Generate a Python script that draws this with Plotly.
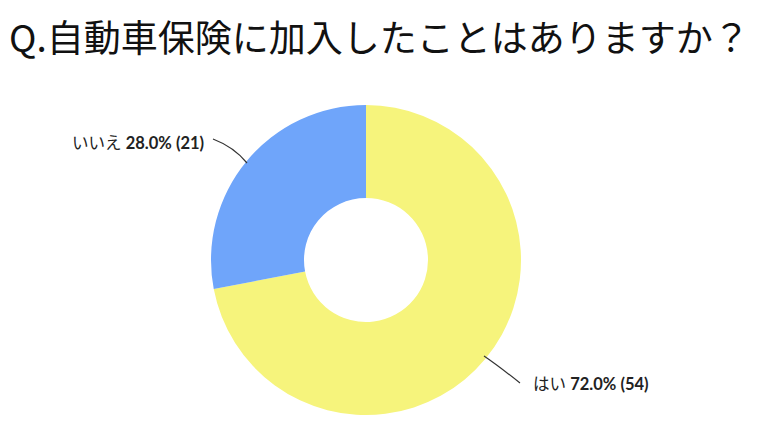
import plotly.graph_objects as go

title = "Q.自動車保険に加入したことはありますか？"
labels = ["はい", "いいえ"]
counts = [54, 21]
colors = ["#F6F47C", "#6FA5FA"]

total = sum(counts)
label_text = [
    "%s <b>%.1f%% (%d)</b>" % (name, n * 100.0 / total, n)
    for name, n in zip(labels, counts)
]

# the page body adds an 8px margin, so the figure is drawn 8px smaller
# and every pixel position below is taken from the screenshot minus 8
OFF = 8
W, H = 760 - OFF, 427 - OFF
cx, cy, r = 366 - OFF, 260 - OFF, 155  # donut centre / radius in pixels

fig = go.Figure(
    go.Pie(
        labels=labels,
        values=counts,
        hole=0.4,
        sort=False,
        direction="clockwise",
        rotation=0,
        marker=dict(colors=colors, line=dict(width=0)),
        textinfo="none",
        hoverinfo="label+percent+value",
        domain=dict(
            x=[(cx - r) / W, (cx + r) / W],
            y=[(H - cy - r) / H, (H - cy + r) / H],
        ),
        showlegend=False,
    )
)


def px_x(x):
    return (x - OFF) / W


def px_y(y):
    return 1 - (y - OFF) / H


leaders = [
    # (label index, line start, line end, text anchor point, xanchor)
    (0, (484, 356), (520, 383), (531, 384), "left"),
    (1, (247, 163), (213, 139), (206, 143), "right"),
]
for i, (x0, y0), (x1, y1), (tx, ty), xa in leaders:
    fig.add_shape(
        type="path",
        path="M %f %f Q %f %f %f %f" % (
            px_x(x0), px_y(y0),
            px_x((x0 + x1) / 2 + (4 if xa == "right" else -4)),
            px_y((y0 + y1) / 2 - 4),
            px_x(x1), px_y(y1),
        ),
        xref="paper", yref="paper",
        line=dict(color="#333333", width=1.2),
    )
    fig.add_annotation(
        x=px_x(tx), y=px_y(ty), xref="paper", yref="paper",
        text=label_text[i], showarrow=False,
        xanchor=xa, yanchor="middle",
        font=dict(family="Lato, Noto Sans CJK JP", size=16.5, color="#222222"),
    )

# title as a top-anchored annotation so the glyphs are not clipped
fig.add_annotation(
    x=0, y=1, xref="paper", yref="paper",
    text=title, showarrow=False,
    xanchor="left", yanchor="top", borderpad=0,
    font=dict(family="Noto Sans CJK JP", size=37, color="#111111"),
)

fig.update_layout(
    width=W,
    height=H,
    margin=dict(l=0, r=0, t=0, b=0),
    paper_bgcolor="white",
    plot_bgcolor="white",
)

fig.write_html("out.html")
